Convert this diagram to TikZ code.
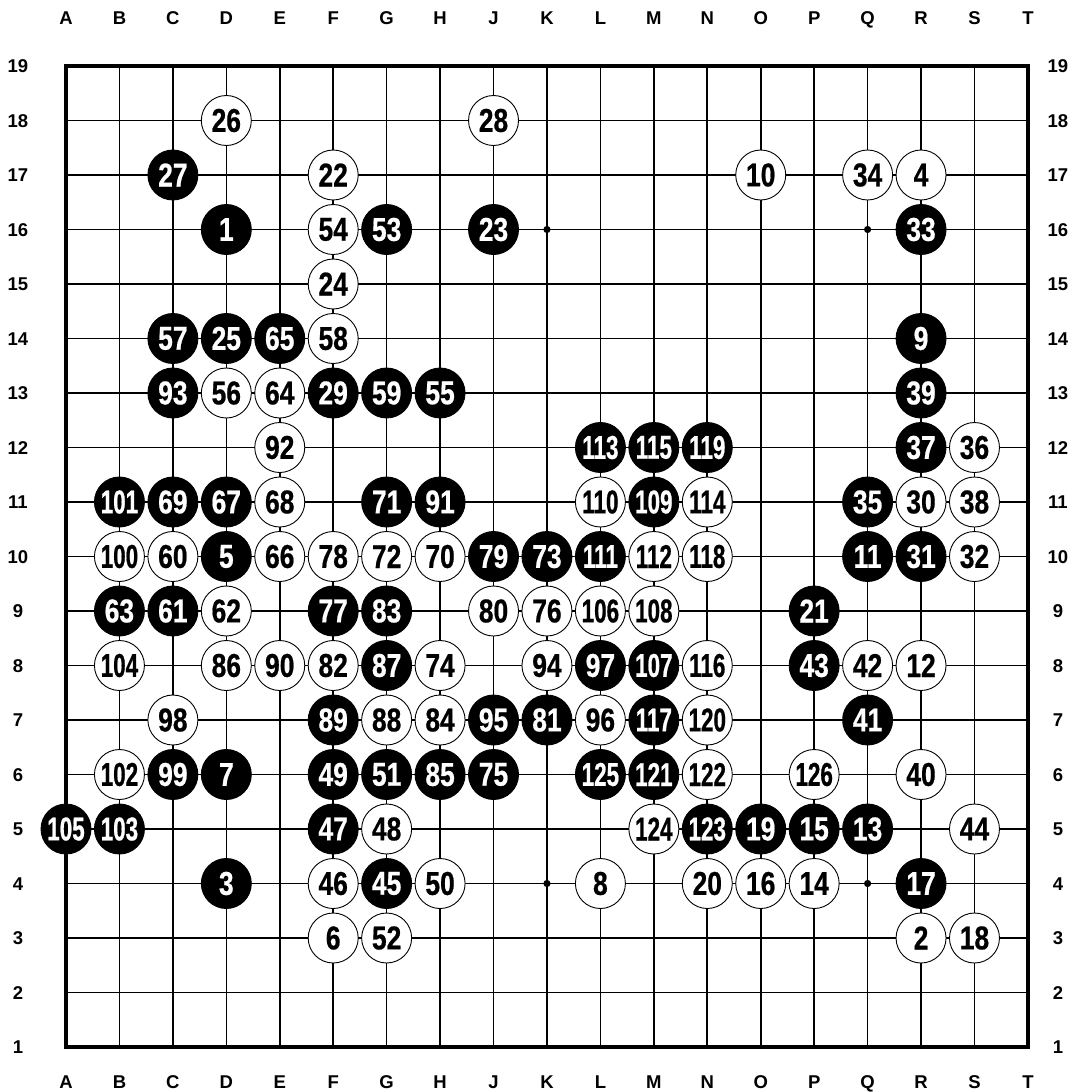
\documentclass[tikz,border=0pt]{standalone}
\usepackage{fontspec}
\setmainfont{Liberation Sans}
\newfontfamily\widefont[FakeStretch=0.8,FakeBold=0.6]{Liberation Sans Bold}
\newfontfamily\narrowfont[FakeStretch=0.68,FakeBold=0.6]{Liberation Sans Bold}
\newfontfamily\lblfont{Liberation Sans Bold}
\newcommand\mv[1]{\ifnum#1>99\relax{\narrowfont#1}\else{\widefont#1}\fi}
\tikzset{
  stone/.style={circle,draw=black,line width=0.9pt,minimum size=50pt,inner sep=0pt,font=\fontsize{33}{33}\selectfont},
  bstone/.style={stone,fill=black,text=white},
  wstone/.style={stone,fill=white,text=black},
  lbl/.style={font=\lblfont\fontsize{18.5}{18.5}\selectfont,text height=13.3pt,text depth=0pt},
}
\begin{document}
\begin{tikzpicture}[x=1pt,y=-1pt]
\useasboundingbox[fill=white] (0,0) rectangle (1077,1092);
\foreach \l [count=\i from 0] in {A,B,C,D,E,F,G,H,J,K,L,M,N,O,P,Q,R,S,T}{\foreach \r in {1,...,19}{\coordinate (\l\r) at (66+\i*53.44,66+19*54.5-\r*54.5);}}
\foreach \r in {2,...,18}{\draw[line width=1.6pt] (A\r) -- (T\r);}
\foreach \l in {B,C,D,E,F,G,H,J,K,L,M,N,O,P,Q,R,S}{\draw[line width=1.6pt] (\l1) -- (\l19);}
\draw[line width=3.2pt] (A1) rectangle (T19);
\foreach \p in {D4,K4,Q4,D10,K10,Q10,D16,K16,Q16}{\fill (\p) circle (3.6pt);}
\foreach \l in {A,B,C,D,E,F,G,H,J,K,L,M,N,O,P,Q,R,S,T}{\node[lbl] (top\l) at ([yshift=48pt]\l19) {\l};\node[lbl] (bot\l) at ([yshift=-35pt]\l1) {\l};}
\foreach \r in {1,...,19}{\node[lbl] (lft\r) at ([xshift=-48pt]A\r) {\r};\node[lbl] (rgt\r) at ([xshift=30pt]T\r) {\r};}
\foreach \p/\n in {D16/1,D4/3,D10/5,D6/7,R14/9,Q10/11,Q5/13,P5/15,R4/17,O5/19,P9/21,J16/23,D14/25,C17/27,F13/29,R10/31,R16/33,Q11/35,R12/37,R13/39,Q7/41,P8/43,G4/45,F5/47,F6/49,G6/51,G16/53,H13/55,C14/57,G13/59,C9/61,B9/63,E14/65,D11/67,C11/69,G11/71,K10/73,J6/75,F9/77,J10/79,K7/81,G9/83,H6/85,G8/87,F7/89,H11/91,C13/93,J7/95,L8/97,C6/99,B11/101,B5/103,A5/105,M8/107,M11/109,L10/111,L12/113,M12/115,M7/117,N12/119,M6/121,N5/123,L6/125}{\node[bstone] (s\p) at (\p) {\mv{\n}};}
\foreach \p/\n in {R3/2,R17/4,F3/6,L4/8,O17/10,R8/12,P4/14,O4/16,S3/18,N4/20,F17/22,F15/24,D18/26,J18/28,R11/30,S10/32,Q17/34,S12/36,S11/38,R6/40,Q8/42,S5/44,F4/46,G5/48,H4/50,G3/52,F16/54,D13/56,F14/58,C10/60,D9/62,E13/64,E10/66,E11/68,H10/70,G10/72,H8/74,K9/76,F10/78,J9/80,F8/82,H7/84,D8/86,G7/88,E8/90,E12/92,K8/94,L7/96,C7/98,B10/100,B6/102,B8/104,L9/106,M9/108,L11/110,M10/112,N11/114,N8/116,N10/118,N7/120,N6/122,M5/124,P6/126}{\node[wstone] (s\p) at (\p) {\mv{\n}};}
\end{tikzpicture}
\end{document}
